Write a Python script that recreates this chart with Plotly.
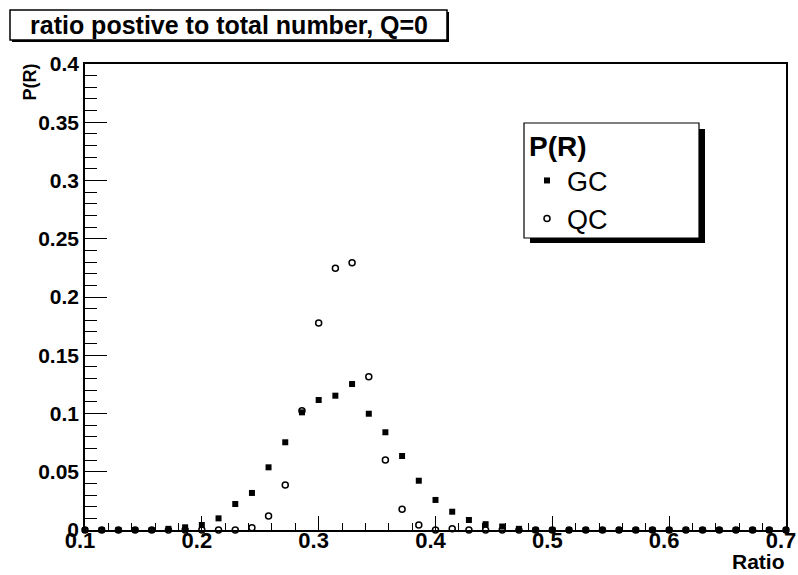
import plotly.graph_objects as go

# ---- data ----
ratio = [round(0.1 + k / 70, 4) for k in range(43)]  # bin positions 0.1 .. 0.7, step 1/70
gc = [0, 0, 0, 0, 0, 0.001, 0.0023, 0.0043, 0.010, 0.0223, 0.0318, 0.0538, 0.0753,
      0.101, 0.1116, 0.1153, 0.1253, 0.0998, 0.0839, 0.0635, 0.0423, 0.0258, 0.0157,
      0.0086, 0.005, 0.003, 0.001, 0, 0, 0, 0, 0, 0, 0, 0, 0, 0, 0, 0, 0, 0, 0, 0]
qc = [0, 0, 0, 0, 0, 0, 0, 0, 0, 0, 0.002, 0.012, 0.0386, 0.1024, 0.1777, 0.2246,
      0.2294, 0.1316, 0.0601, 0.0178, 0.0043, 0, 0.001, 0, 0, 0, 0, 0, 0, 0, 0, 0,
      0, 0, 0, 0, 0, 0, 0, 0, 0, 0, 0]
x_ticks = [0.1, 0.2, 0.3, 0.4, 0.5, 0.6, 0.7]
x_ticklabels = ["0.1", "0.2", "0.3", "0.4", "0.5", "0.6", "0.7"]
y_ticks = [0, 0.05, 0.1, 0.15, 0.2, 0.25, 0.3, 0.35, 0.4]
y_ticklabels = ["0", "0.05", "0.1", "0.15", "0.2", "0.25", "0.3", "0.35", "0.4"]
title_text = "ratio postive to total number, Q=0"
legend_title = "P(R)"
x_title = "Ratio"
y_title = "P(R)"

W, H = 798, 575
L, R, T, B = 85, 12, 64, 45
PW, PH = W - L - R, H - T - B
FONT = "Liberation Sans, Arial, Helvetica, sans-serif"


def px(x):
    return (x - L) / PW


def py(y):
    return (H - B - y) / PH


fig = go.Figure()
fig.add_trace(go.Scatter(
    x=ratio, y=gc, mode="markers", name="GC", cliponaxis=False,
    marker=dict(symbol="square", size=6, color="black", line=dict(width=0))))
fig.add_trace(go.Scatter(
    x=ratio, y=qc, mode="markers", name="QC", cliponaxis=False,
    marker=dict(symbol="circle-open", size=6, color="black", line=dict(width=1.5, color="black"))))

shapes = [
    # title box
    dict(type="rect", xref="paper", yref="paper", x0=px(12), x1=px(449), y0=py(12), y1=py(42),
         fillcolor="black", line=dict(width=0), layer="above"),
    dict(type="rect", xref="paper", yref="paper", x0=px(10), x1=px(447), y0=py(10), y1=py(40),
         fillcolor="white", line=dict(color="black", width=1.5), layer="above"),
    # legend box with shadow
    dict(type="rect", xref="paper", yref="paper", x0=px(530), x1=px(705), y0=py(129), y1=py(243),
         fillcolor="black", line=dict(width=0), layer="above"),
    dict(type="rect", xref="paper", yref="paper", x0=px(524), x1=px(699), y0=py(123), y1=py(238),
         fillcolor="white", line=dict(color="black", width=1.2), layer="above"),
]

annotations = [
    dict(text=title_text, xref="paper", yref="paper", x=px(229), y=py(25), xanchor="center",
         yanchor="middle", showarrow=False, font=dict(family=FONT, size=25, color="black", weight="bold")),
    dict(text=x_title, xref="paper", yref="paper", x=px(787), y=py(561), xanchor="right",
         yanchor="middle", showarrow=False, font=dict(family=FONT, size=21, color="black", weight="bold")),
    dict(text=y_title, xref="paper", yref="paper", x=px(30), y=py(62), xanchor="center",
         yanchor="top", textangle=-90, showarrow=False,
         font=dict(family=FONT, size=18, color="black", weight="bold")),
]

fig.update_layout(
    width=W, height=H, autosize=False,
    margin=dict(l=L, r=R, t=T, b=B, pad=0, autoexpand=False),
    paper_bgcolor="white", plot_bgcolor="white",
    shapes=shapes, annotations=annotations,
    showlegend=True,
    legend=dict(x=px(527), y=py(120), xanchor="left", yanchor="top",
                bgcolor="rgba(0,0,0,0)", borderwidth=0,
                font=dict(family=FONT, size=27, color="black"),
                title=dict(text=legend_title, font=dict(family=FONT, size=28, color="black", weight="bold")),
                itemwidth=30, tracegroupgap=0),
    xaxis=dict(range=[0.1, 0.7], tickvals=x_ticks, ticktext=x_ticklabels, showgrid=False, zeroline=False,
               automargin=False,
               ticks="inside", ticklen=14, tickwidth=1.2, tickcolor="black",
               minor=dict(dtick=0.02, tick0=0.1, ticklen=7, tickwidth=1, tickcolor="black",
                          ticks="inside", showgrid=False),
               showline=True, mirror=True, linecolor="black", linewidth=1.5,
               ticklabelstandoff=-10, ticklabelshift=-5, ticklabeloverflow="allow",
               tickfont=dict(family=FONT, size=22, color="black", weight="bold")),
    yaxis=dict(range=[0, 0.4], tickvals=y_ticks, ticktext=y_ticklabels, showgrid=False, zeroline=False,
               automargin=False,
               ticks="inside", ticklen=22, tickwidth=1.2, tickcolor="black",
               minor=dict(dtick=0.01, tick0=0, ticklen=12, tickwidth=1, tickcolor="black",
                          ticks="inside", showgrid=False),
               showline=True, mirror=True, linecolor="black", linewidth=1.5,
               tickfont=dict(family=FONT, size=21, color="black", weight="bold")),
)

fig.write_html("out.html")
